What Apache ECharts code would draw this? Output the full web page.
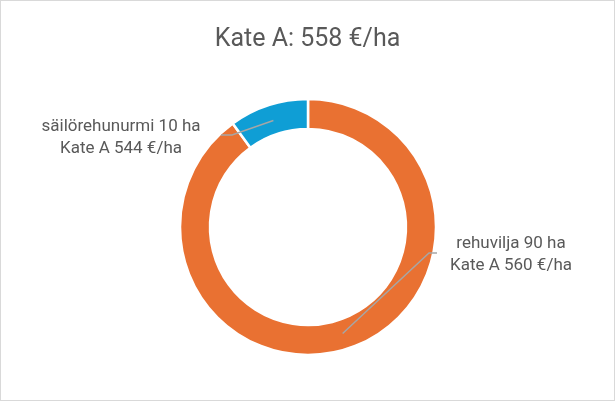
<!DOCTYPE html>
<html>
<head>
<meta charset="utf-8">
<script src="https://cdn.jsdelivr.net/npm/echarts@6/dist/echarts.min.js"></script>
<style>
html,body{margin:0;padding:0;background:#fff;}
#wrap{width:615px;height:401px;box-sizing:border-box;border:1px solid #d9d9d9;}
#chart{width:613px;height:399px;}
</style>
</head>
<body>
<div id="wrap"><div id="chart"></div></div>
<script>
// Data
const categories = ['rehuvilja', 'säilörehunurmi'];
const hectares = [90, 10];
const kateA = [560, 544];
const totalKateA = 558;

const colors = ['#E97132', '#0F9ED5'];
const cx = 307, cy = 226;
const rOuter = 128, rInner = 98;
const rMid = (rOuter + rInner) / 2 - 1;

const total = hectares.reduce((a, b) => a + b, 0);
function midAngle(i) {
  let before = 0;
  for (let k = 0; k < i; k++) before += hectares[k];
  return ((before + hectares[i] / 2) / total) * 2 * Math.PI; // clockwise from top
}

// label layout per slice
const labelPos = [
  { x: 510, y: 254, lineY: 252, elbowX: 428, endX: 436 },
  { x: 120, y: 137, lineY: 134, elbowX: 231, endX: 220 }
];

const pieData = categories.map((c, i) => ({ name: c, value: hectares[i] }));

const chart = echarts.init(document.getElementById('chart'), null, { renderer: 'canvas' });
chart.setOption({
  backgroundColor: '#fff',
  animation: false,
  title: {
    text: 'Kate A: ' + totalKateA + ' €/ha',
    left: 'center',
    top: 21,
    textStyle: { fontFamily: 'Roboto', fontSize: 25, fontWeight: 'normal', color: '#595959' }
  },
  series: [{
    type: 'pie',
    z: 2,
    center: [cx, cy],
    radius: [rInner, rOuter],
    startAngle: 90,
    clockwise: true,
    color: colors,
    itemStyle: { borderColor: '#fff', borderWidth: 2.5 },
    label: { show: false },
    labelLine: { show: false },
    data: pieData
  }, {
    type: 'pie',
    z: 5,
    silent: true,
    center: [cx, cy],
    radius: [rInner, rOuter],
    startAngle: 90,
    clockwise: true,
    itemStyle: { color: 'rgba(0,0,0,0)', borderWidth: 0 },
    label: {
      show: true,
      position: 'outside',
      fontFamily: 'Roboto',
      fontSize: 17,
      lineHeight: 22,
      color: '#595959',
      align: 'center',
      formatter: p => categories[p.dataIndex] + ' ' + hectares[p.dataIndex] + ' ha\nKate A ' + kateA[p.dataIndex] + ' €/ha'
    },
    labelLine: {
      show: true,
      minTurnAngle: 0,
      maxSurfaceAngle: 180,
      lineStyle: { color: '#A6A6A6', width: 1.5 }
    },
    labelLayout: function (params) {
      const i = params.dataIndex;
      const a = midAngle(i);
      const sx = cx + rMid * Math.sin(a);
      const sy = cy - rMid * Math.cos(a);
      const lp = labelPos[i];
      return {
        x: lp.x,
        y: lp.y,
        align: 'center',
        verticalAlign: 'middle',
        labelLinePoints: [[sx, sy], [lp.elbowX, lp.lineY], [lp.endX, lp.lineY]]
      };
    },
    data: pieData
  }]
});
</script>
</body>
</html>
